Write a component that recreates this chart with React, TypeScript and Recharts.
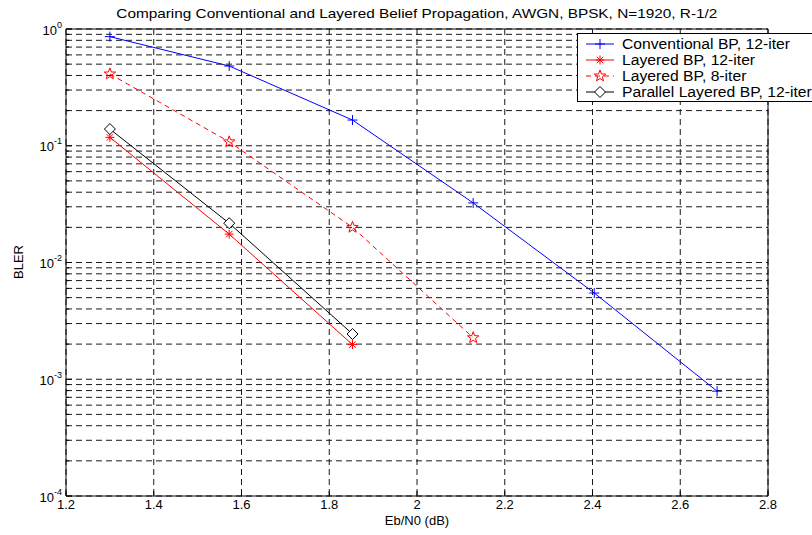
import { LineChart, Line, XAxis, YAxis, CartesianGrid, ReferenceLine, Legend } from 'recharts';

// Eb/N0 (dB) vs BLER
const convX = [1.3, 1.572, 1.853, 2.128, 2.404, 2.684];
const convY = [0.86, 0.482, 0.166, 0.0324, 0.00548, 0.00079];
const layered12X = [1.3, 1.572, 1.853];
const layered12Y = [0.118, 0.0175, 0.00198];
const layered8X = [1.3, 1.572, 1.853, 2.128];
const layered8Y = [0.412, 0.108, 0.02, 0.00227];
const parallelX = [1.3, 1.572, 1.853];
const parallelY = [0.139, 0.0217, 0.00244];

const xTicks = [1.2, 1.4, 1.6, 1.8, 2, 2.2, 2.4, 2.6, 2.8];
const decades = [1e-4, 1e-3, 1e-2, 1e-1];
const mantissas = [1, 2, 3, 4, 5, 6, 7, 8, 9];
const yTicks = [...decades.flatMap((d) => mantissas.map((m) => +(m * d).toPrecision(3))), 1];

const toRows = (xs: number[], ys: number[]) => xs.map((x, i) => ({ x, y: ys[i] }));

const FONT = '"Liberation Sans", Arial, Helvetica, sans-serif';

const Plus = ({ cx, cy, color }: any) => (
  <path d={`M${cx - 5},${cy}H${cx + 5}M${cx},${cy - 5}V${cy + 5}`} stroke={color} strokeWidth={1} fill="none" />
);

const Asterisk = ({ cx, cy, color }: any) => {
  const r = 4.5;
  const d = r * 0.707;
  return (
    <path
      d={`M${cx - r},${cy}H${cx + r}M${cx},${cy - r}V${cy + r}M${cx - d},${cy - d}L${cx + d},${cy + d}M${cx - d},${cy + d}L${cx + d},${cy - d}`}
      stroke={color}
      strokeWidth={1}
      fill="none"
    />
  );
};

const Star = ({ cx, cy, color }: any) => {
  const pts: string[] = [];
  for (let i = 0; i < 10; i++) {
    const r = i % 2 === 0 ? 6 : 2.5;
    const a = -Math.PI / 2 + (i * Math.PI) / 5;
    pts.push(`${cx + r * Math.cos(a)},${cy + r * Math.sin(a)}`);
  }
  return <polygon points={pts.join(' ')} stroke={color} strokeWidth={1} fill="none" />;
};

const Diamond = ({ cx, cy, color }: any) => (
  <polygon
    points={`${cx},${cy - 5.5} ${cx + 5.5},${cy} ${cx},${cy + 5.5} ${cx - 5.5},${cy}`}
    stroke={color}
    strokeWidth={1}
    fill="white"
  />
);

const series = [
  { name: 'Conventional BP, 12-iter', data: toRows(convX, convY), color: '#0000ff', dash: undefined, Marker: Plus },
  { name: 'Layered BP, 12-iter', data: toRows(layered12X, layered12Y), color: '#ff0000', dash: undefined, Marker: Asterisk },
  { name: 'Layered BP, 8-iter', data: toRows(layered8X, layered8Y), color: '#ff0000', dash: '5 4', Marker: Star },
  { name: 'Parallel Layered BP, 12-iter', data: toRows(parallelX, parallelY), color: '#000000', dash: undefined, Marker: Diamond },
];

const XTick = ({ x, y, payload }: any) => (
  <g>
    <line x1={x} x2={x} y1={y - 4} y2={y - 9} stroke="#000" />
    <text x={x} y={y} dy="0.71em" textAnchor="middle" fontSize={13} fontFamily={FONT} fill="#000">
      {payload.value}
    </text>
  </g>
);

const YTick = ({ x, y, payload }: any) => {
  const v = payload.value;
  const exp = Math.round(Math.log10(v));
  const major = Math.abs(v - Math.pow(10, exp)) < 1e-12;
  return (
    <g>
      <line x1={x + 4} x2={x + (major ? 10 : 7)} y1={y} y2={y} stroke="#000" />
      {major && (
        <text x={x} y={y} dy="0.35em" textAnchor="end" fontFamily={FONT} fill="#000">
          <tspan fontSize={13}>10</tspan>
          <tspan fontSize={9} dy={-7}>{exp}</tspan>
        </text>
      )}
    </g>
  );
};

const LegendBox = () => (
  <div
    style={{
      border: '1px solid #000',
      background: '#fff',
      padding: '2px 0 1px 0',
      fontFamily: FONT,
      fontSize: 14,
      width: 235,
    }}
  >
    {series.map((s) => (
      <div key={s.name} style={{ display: 'flex', alignItems: 'center', height: 16 }}>
        <svg width={44} height={16} style={{ flex: 'none' }}>
          <line x1={8} x2={36} y1={8} y2={8} stroke={s.color} strokeDasharray={s.dash} />
          <s.Marker cx={22} cy={8} color={s.color} />
        </svg>
        <span style={{ whiteSpace: 'nowrap', display: 'inline-block', transform: 'scaleX(1.12)', transformOrigin: 'left center' }}>
          {s.name}
        </span>
      </div>
    ))}
  </div>
);

export default function App() {
  return (
    <div style={{ position: 'absolute', left: 0, top: 0, width: 812, height: 535, background: '#fff', overflow: 'hidden' }}>
      <div
        style={{
          position: 'absolute',
          top: 6,
          left: 0,
          width: 834,
          textAlign: 'center',
          fontFamily: FONT,
          fontSize: 13,
          transform: 'scaleX(1.18)',
          transformOrigin: '418px 0',
        }}
      >
        Comparing Conventional and Layered Belief Propagation, AWGN, BPSK, N=1920, R-1/2
      </div>
      <div
        style={{
          position: 'absolute',
          left: 10,
          top: 262,
          transform: 'translate(-50%, -50%) rotate(-90deg)',
          fontFamily: FONT,
          fontSize: 13,
          marginLeft: 8,
        }}
      >
        BLER
      </div>
      <div
        style={{
          position: 'absolute',
          left: 66,
          width: 702,
          top: 513,
          textAlign: 'center',
          fontFamily: FONT,
          fontSize: 13,
        }}
      >
        Eb/N0 (dB)
      </div>
      <LineChart width={812} height={535} margin={{ top: 29, right: 44, bottom: 0, left: 0 }}>
        <CartesianGrid stroke="#1a1a1a" strokeDasharray="6 4" />
        <XAxis
          type="number"
          dataKey="x"
          domain={[1.2, 2.8]}
          ticks={xTicks}
          height={39}
          tickSize={0}
          tickMargin={4}
          tick={<XTick />}
          axisLine={{ stroke: '#000' }}
          allowDataOverflow
        />
        <YAxis
          type="number"
          dataKey="y"
          scale="log"
          domain={[1e-4, 1]}
          ticks={yTicks}
          width={66}
          tickSize={0}
          tickMargin={4}
          tick={<YTick />}
          interval={0}
          axisLine={{ stroke: '#000' }}
          allowDataOverflow
        />
        <ReferenceLine y={1} stroke="#000" />
        <ReferenceLine x={2.8} stroke="#000" />
        {series.map((s) => (
          <Line
            key={s.name}
            data={s.data}
            dataKey="y"
            name={s.name}
            type="linear"
            stroke={s.color}
            strokeWidth={1}
            strokeDasharray={s.dash}
            dot={(p: any) => <s.Marker key={`${s.name}-${p.index}`} cx={p.cx} cy={p.cy} color={s.color} />}
            activeDot={false}
            isAnimationActive={false}
          />
        ))}
        <Legend
          layout="vertical"
          align="center"
          verticalAlign="middle"
          wrapperStyle={{ left: 577, top: 33, width: 235 }}
          content={() => <LegendBox />}
        />
      </LineChart>
    </div>
  );
}
